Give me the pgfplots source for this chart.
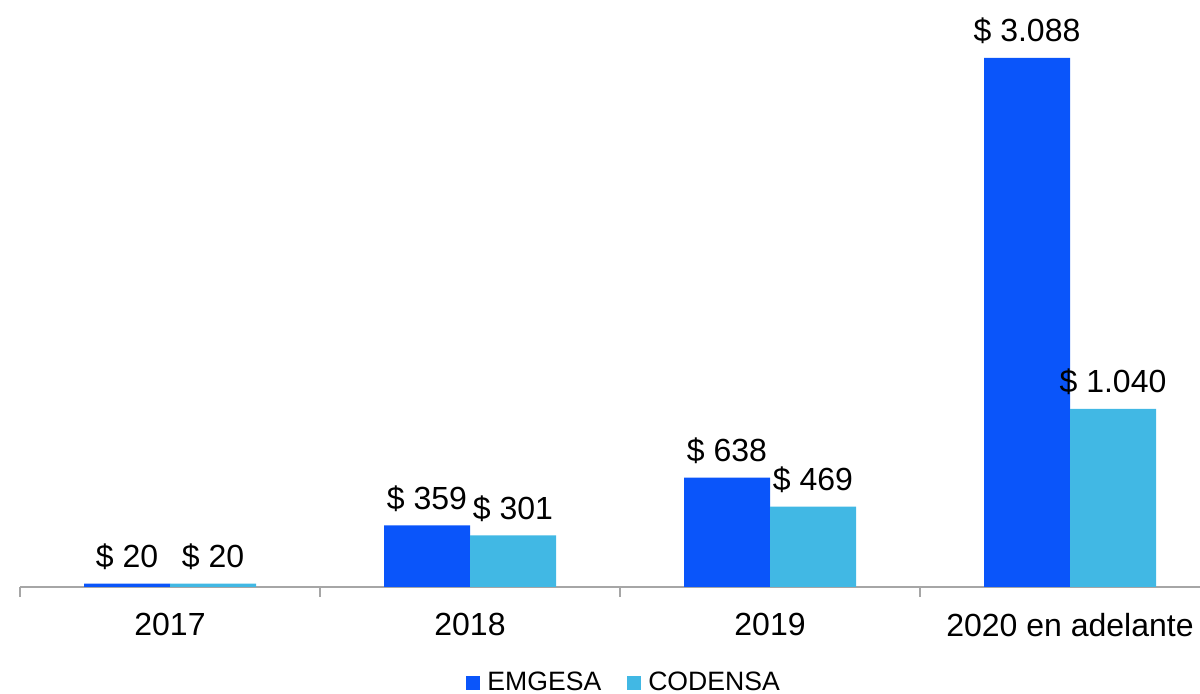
\documentclass[border=0pt]{standalone}
\usepackage{fontspec}
\setmainfont{Liberation Sans}
\usepackage{pgfplots}
\pgfplotsset{compat=1.18}
\definecolor{emg}{HTML}{0A55FA}
\definecolor{cod}{HTML}{41B8E4}
\definecolor{axgray}{HTML}{A6A6A6}

\begin{document}
\begin{tikzpicture}
\begin{axis}[
  at={(10pt,53.5pt)}, anchor=south west,
  scale only axis, width=590pt, height=293.5pt,
  xmin=-0.5, xmax=3.4333, ymin=0, ymax=3426.6,
  clip=false,
  axis x line*=bottom, axis y line=none,
  x axis line style={axgray, line width=0.7pt, -},
  xtick={0,1,2,3},
  xticklabels={2017,2018,2019,2020 en adelante},
  major tick length=0pt,
  extra x ticks={-0.5,0.5,1.5,2.5},
  extra x tick labels={},
  extra x tick style={major tick length=5pt, tick align=outside,
    tick style={draw=axgray, line width=0.7pt}},
  xticklabel style={font=\fontsize{16}{19}\selectfont, yshift=-9.5pt},
  ybar=0pt, bar width=43pt,
  point meta=y,
  /pgf/number format/assume math mode=true,
  nodes near coords={\$ \pgfmathprintnumber[1000 sep={.}]{\pgfplotspointmeta}},
  every node near coord/.append style={font=\fontsize{16}{19}\selectfont, black, yshift=3.5pt},
  legend columns=2,
  legend style={at={(axis description cs:0.512,0)}, anchor=center, yshift=-48pt,
    draw=none, font=\fontsize{13.3}{15}\selectfont,
    /tikz/every odd column/.append style={column sep=2.5pt},
    /tikz/every even column/.append style={column sep=12pt},
    nodes={inner sep=1pt}},
  legend image code/.code={\fill[#1] (0pt,-3.5pt) rectangle (7pt,3.5pt);},
]
\addplot[draw=none, fill=emg] coordinates {(0,20) (1,359) (2,638) (3,3088)};
\addplot[draw=none, fill=cod] coordinates {(0,20) (1,301) (2,469) (3,1040)};
\legend{EMGESA, CODENSA}
\end{axis}
\pgfresetboundingbox
\path[use as bounding box] (0,0) rectangle (600pt,347pt);
\end{tikzpicture}
\end{document}
